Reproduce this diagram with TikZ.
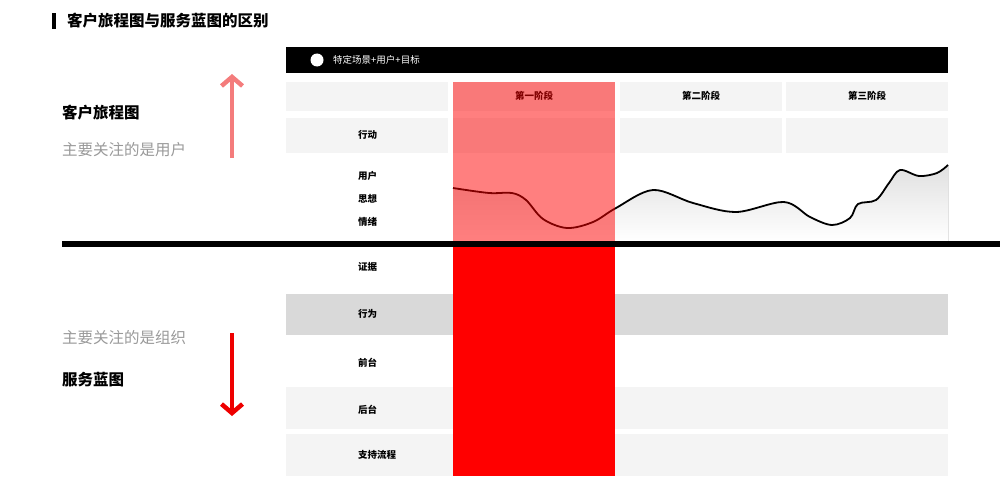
\documentclass[tikz,border=0pt]{standalone}
\usepackage{fontspec}
\setmainfont{Noto Sans CJK SC}
\usetikzlibrary{arrows.meta}
\definecolor{cellgray}{HTML}{F4F4F4}
\definecolor{rowgray}{HTML}{D9D9D9}
\definecolor{softred}{HTML}{F47C7C}
\definecolor{deepred}{HTML}{EE0000}
\definecolor{notegray}{HTML}{999999}
\begin{document}
\begin{tikzpicture}[x=1pt,y=-1pt,
  cell/.style={fill=cellgray},
  lbl/.style={anchor=west,inner sep=0pt,font=\fontsize{9.5}{11}\selectfont\bfseries},
  stage/.style={inner sep=0pt,font=\fontsize{9.5}{11}\selectfont\bfseries},
  big/.style={anchor=west,inner sep=0pt,font=\fontsize{15.5}{18}\selectfont\bfseries},
  note/.style={anchor=west,inner sep=0pt,text=notegray,font=\fontsize{15.5}{18}\selectfont},
  bigarrow/.style={line width=4.5pt,-{Straight Barb[length=9pt,width=21pt]}}]
  \useasboundingbox (0,0) rectangle (1000,487);
  % title
  \fill (52,13) rectangle (56,29);
  \node [big,anchor=west] (title) at (67,21) {客户旅程图与服务蓝图的区别};
  % scene bar
  \fill (286,47) rectangle (948,73);
  \node [circle,fill=white,inner sep=0pt,minimum size=13pt] (dot) at (317,60) {};
  \node [anchor=west,inner sep=0pt,text=white,font=\fontsize{9.5}{11}\selectfont] (scene) at (333,60) {特定场景+用户+目标};
  % stage header and action row
  \fill [cell] (286,82) rectangle (448,111);
  \fill [cell] (453,82) rectangle (615,111);
  \fill [cell] (620,82) rectangle (782,111);
  \fill [cell] (786,82) rectangle (948,111);
  \fill [cell] (286,118) rectangle (448,153);
  \fill [cell] (453,118) rectangle (615,153);
  \fill [cell] (620,118) rectangle (782,153);
  \fill [cell] (786,118) rectangle (948,153);
  \node [stage] (stage1) at (534,96) {第一阶段};
  \node [stage] (stage2) at (701,96) {第二阶段};
  \node [stage] (stage3) at (867,96) {第三阶段};
  \node [lbl] (act) at (358,135) {行动};
  % emotion curve
  \def\mood{(453,188) (489,193) (512,193) (526,200) (543,219) (567,228) (593,222) (616,208)
    (653,190) (693,203) (736,212) (784,202) (810,217) (832,225) (850,218) (858,204)
    (876,200) (889,183) (900,170) (919,176) (937,173) (948,165)}
  \fill [top color=black!12,bottom color=white] (453,241) -- plot [smooth,tension=0.55] coordinates {\mood} -- (948,241) -- cycle;
  \draw [line width=1.8pt] plot [smooth,tension=0.55] coordinates {\mood};
  \node [lbl] (user) at (358,176) {用户};
  \node [lbl] (think) at (358,199) {思想};
  \node [lbl] (feel) at (358,222) {情绪};
  % blueprint rows
  \fill [fill=rowgray] (286,294) rectangle (948,335);
  \fill [cell] (286,387) rectangle (948,429);
  \fill [cell] (286,434) rectangle (948,476);
  \node [lbl] (proof) at (358,267) {证据};
  \node [lbl] (deed) at (358,314) {行为};
  \node [lbl] (front) at (358,363) {前台};
  \node [lbl] (back) at (358,410) {后台};
  \node [lbl] (support) at (358,455) {支持流程};
  % first stage highlight
  \fill [red,opacity=0.5] (453,82) rectangle (615,244);
  \fill [red] (453,244) rectangle (615,476);
  % dividing line
  \coordinate (lineL) at (62,244);
  \coordinate (lineR) at (1000,244);
  \draw [line width=6pt] (lineL) -- (lineR);
  % left side
  \node [big] (cjm) at (62,113) {客户旅程图};
  \node [note] (cjmnote) at (62,150) {主要关注的是用户};
  \node [note] (sbnote) at (62,338) {主要关注的是组织};
  \node [big] (sb) at (62,380) {服务蓝图};
  \coordinate (upS) at (232,158);
  \coordinate (upE) at (232,74);
  \coordinate (dnS) at (232,333);
  \coordinate (dnE) at (232,416);
  \draw [bigarrow,softred] (upS) -- (upE);
  \draw [bigarrow,deepred] (dnS) -- (dnE);
\end{tikzpicture}
\end{document}
